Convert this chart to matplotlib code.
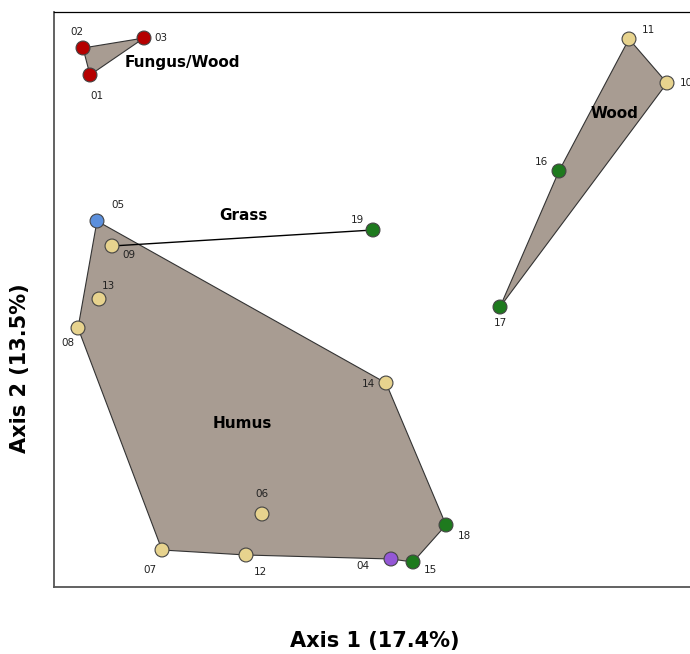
import numpy as np
import matplotlib.pyplot as plt
from matplotlib.patches import Polygon

# ordination scores (arbitrary units)
ids = ["01", "02", "03", "04", "05", "06", "07", "08", "09", "10",
       "11", "12", "13", "14", "15", "16", "17", "18", "19"]
axis1 = [36, 29, 90, 337, 43, 208, 108, 24, 58, 613,
         575, 192, 45, 332, 359, 505, 446, 392, 319]
axis2 = [512, 539, 549, 28, 366, 73, 37, 259, 341, 504,
         548, 32, 288, 204, 25, 416, 280, 62, 357]
colors = ["#b50000", "#b50000", "#b50000", "#9457d6", "#5b8fdc", "#e7d38e",
          "#e7d38e", "#e7d38e", "#e7d38e", "#e7d38e", "#e7d38e", "#e7d38e",
          "#e7d38e", "#e7d38e", "#1e7a1e", "#1e7a1e", "#1e7a1e", "#1e7a1e", "#1e7a1e"]

# label offsets in pixels (dx, dy down)
lab_dx = [7, -6, 17, -28, 21, 0, -12, -10, 17, 19, 19, 14, 9, -18, 17, -18, 0, 18, -16]
lab_dy = [21, -16, 0, 7, -16, -20, 20, 15, 9, 0, -9, 17, -13, 1, 8, -9, 16, 11, -10]

groups = {
    "Fungus/Wood": ["01", "02", "03"],
    "Humus": ["05", "14", "18", "15", "04", "12", "07", "08"],
    "Wood": ["11", "10", "17", "16"],
}
group_lab = {"Fungus/Wood": (128, 525), "Humus": (188, 164),
             "Wood": (560, 473), "Grass": (189, 371)}
grass = ["09", "19"]

fig = plt.figure(figsize=(6.9, 6.54), dpi=100)
ax = fig.add_axes([54/690, 67/654, 642/690, 575/654])
ax.set_xlim(0, 642)
ax.set_ylim(0, 575)

pos = {k: (x, y) for k, x, y in zip(ids, axis1, axis2)}

for g, members in groups.items():
    pts = [pos[m] for m in members]
    ax.add_patch(Polygon(pts, closed=True, facecolor="#a89c92",
                         edgecolor="#333333", linewidth=0.8, zorder=1))
ax.plot([pos[m][0] for m in grass], [pos[m][1] for m in grass],
        color="black", linewidth=1.0, zorder=2)

ax.scatter(axis1, axis2, s=100, c=colors, edgecolors="#444444",
           linewidths=0.8, zorder=3)

for k, x, y, dx, dy in zip(ids, axis1, axis2, lab_dx, lab_dy):
    ax.annotate(k, (x, y), xytext=(dx, -dy), textcoords="offset pixels",
                ha="center", va="center", fontsize=7.5, color="#222222",
                annotation_clip=False)

for g, (x, y) in group_lab.items():
    ax.text(x, y, g, ha="center", va="center", fontsize=11,
            fontweight="bold", zorder=4)

ax.set_xticks([])
ax.set_yticks([])
for s in ["left", "bottom"]:
    ax.spines[s].set_color("#555555")
    ax.spines[s].set_linewidth(1.3)
ax.spines["top"].set_linewidth(0.9)

fig.text(375/690, 1 - 641/654, "Axis 1 (17.4%)", ha="center", va="center",
         fontsize=15, fontweight="bold")
fig.text(20/690, 1 - 368/654, "Axis 2 (13.5%)", ha="center", va="center",
         rotation=90, fontsize=15, fontweight="bold")

fig.savefig("out.png", dpi=100)
